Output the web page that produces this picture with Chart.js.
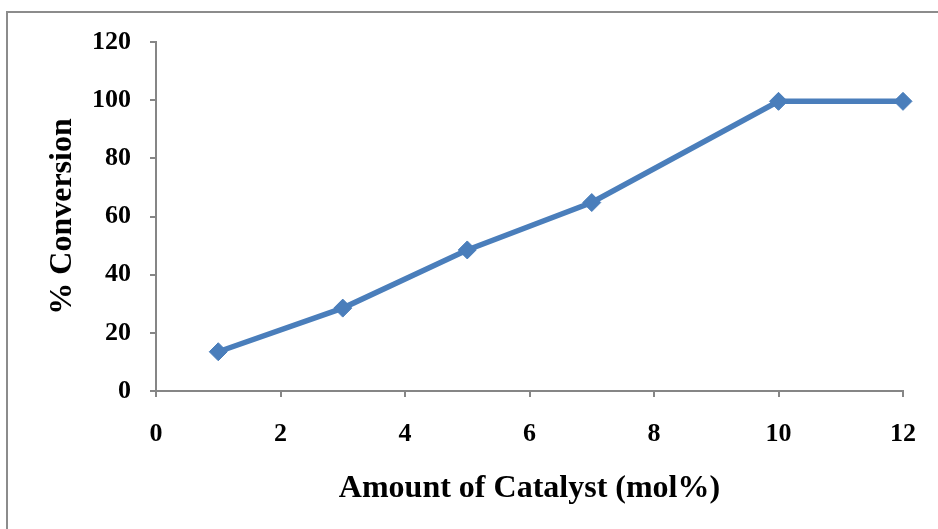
<!DOCTYPE html>
<html>
<head>
<meta charset="utf-8">
<script src="https://cdn.jsdelivr.net/npm/chart.js@4"></script>
<style>
  body { margin: 0; background: #fff; }
  #wrap { position: relative; width: 938px; height: 529px; }
  #frame {
    position: absolute; left: 6px; top: 11px; width: 940px; height: 530px;
    border-left: 2px solid #8c8c8c; border-top: 2px solid #8c8c8c;
  }
  canvas { position: absolute; left: 0; top: 0; }
</style>
</head>
<body>
<div id="wrap">
  <div id="frame"></div>
  <canvas id="chart" width="938" height="529"></canvas>
</div>
<script>
const catalyst = [1, 3, 5, 7, 10, 12]
const conversion = [13.5, 28.5, 48.5, 64.8, 99.6, 99.6]
const xTicks = [0, 2, 4, 6, 8, 10, 12]
const yTicks = [0, 20, 40, 60, 80, 100, 120]

const axisColor = '#868686'
const lineColor = '#4A7EBB'
const tickFont = { family: 'Liberation Serif', size: 26, weight: 'bold' }
const titleFont = { family: 'Liberation Serif', size: 32, weight: 'bold' }

const points = catalyst.map((x, i) => ({ x: x, y: conversion[i] }))

new Chart(document.querySelector('#chart'), {
  type: 'line',
  data: {
    datasets: [{
      data: points,
      borderColor: lineColor,
      backgroundColor: lineColor,
      borderWidth: 5.5,
      pointStyle: 'rectRot',
      pointRadius: 9,
      pointBorderWidth: 1,
      pointBorderColor: lineColor,
      pointBackgroundColor: lineColor,
      tension: 0,
      clip: false
    }]
  },
  options: {
    responsive: false,
    animation: false,
    layout: { padding: { top: 42, right: 34, bottom: 0, left: 0 } },
    plugins: {
      legend: { display: false },
      tooltip: { enabled: false }
    },
    scales: {
      x: {
        type: 'linear',
        min: 0,
        max: 12,
        afterBuildTicks: scale => { scale.ticks = xTicks.map(v => ({ value: v })) },
        afterFit: scale => { scale.height = 529 - 391 },
        border: { color: axisColor, width: 2 },
        grid: { drawOnChartArea: false, color: axisColor, lineWidth: 2, tickLength: 6 },
        ticks: { color: '#000', font: tickFont, padding: 22, maxRotation: 0 },
        title: {
          display: true,
          text: 'Amount of Catalyst (mol%)',
          color: '#000',
          font: titleFont,
          padding: { top: 0, bottom: 21 }
        }
      },
      y: {
        min: 0,
        max: 120,
        afterBuildTicks: scale => { scale.ticks = yTicks.map(v => ({ value: v })) },
        afterFit: scale => { scale.width = 156 },
        border: { color: axisColor, width: 2 },
        grid: { drawOnChartArea: false, color: axisColor, lineWidth: 2, tickLength: 6 },
        ticks: { color: '#000', font: tickFont, padding: 19 },
        title: {
          display: true,
          text: '% Conversion',
          color: '#000',
          font: titleFont,
          padding: { top: 44, bottom: 0 }
        }
      }
    }
  }
})
</script>
</body>
</html>
